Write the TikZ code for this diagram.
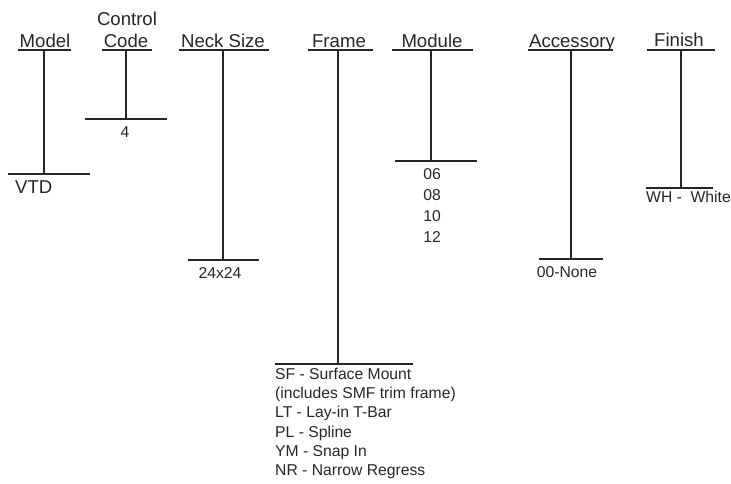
\documentclass[tikz,border=0pt]{standalone}
\usepackage{fontspec}
\setmainfont{Liberation Sans}
\begin{document}
\begin{tikzpicture}[x=1pt,y=-1pt,
  bar/.style={line width=1.4pt, color=black!85},
  head/.style={font=\fontsize{18.6}{20}\selectfont, anchor=base, inner sep=0pt, text=black!85},
  val/.style={font=\fontsize{15.7}{19}\selectfont, anchor=base, inner sep=0pt, text=black!85},
  valw/.style={val, anchor=base west}]
\useasboundingbox (0,0) rectangle (731,483);
% Model
\node[head] (hModel) at (45,47) {Model};
\coordinate (mTL) at (18,50); \coordinate (mTR) at (71,50);
\coordinate (mT) at (44,50); \coordinate (mB) at (44,174);
\coordinate (mBL) at (8,174); \coordinate (mBR) at (90,174);
\draw[bar] (mTL) -- (mTR);
\draw[bar] (mT) -- (mB);
\draw[bar] (mBL) -- (mBR);
\node[head, anchor=base west] (vModel) at (15,193) {VTD};
% Control Code
\node[head] (hCtrl1) at (127,25) {Control};
\node[head] (hCtrl2) at (126,47) {Code};
\coordinate (cTL) at (102,50); \coordinate (cTR) at (152,50);
\coordinate (cT) at (126,50); \coordinate (cB) at (126,119);
\coordinate (cBL) at (85,119); \coordinate (cBR) at (167,119);
\draw[bar] (cTL) -- (cTR);
\draw[bar] (cT) -- (cB);
\draw[bar] (cBL) -- (cBR);
\node[val] (vCtrl) at (125,137) {4};
% Neck Size
\node[head] (hNeck) at (223,47) {Neck Size};
\coordinate (nTL) at (179,50); \coordinate (nTR) at (269,50);
\coordinate (nT) at (223,50); \coordinate (nB) at (223,260);
\coordinate (nBL) at (188,260); \coordinate (nBR) at (259,260);
\draw[bar] (nTL) -- (nTR);
\draw[bar] (nT) -- (nB);
\draw[bar] (nBL) -- (nBR);
\node[val] (vNeck) at (220,278) {24x24};
% Frame
\node[head] (hFrame) at (339,47) {Frame};
\coordinate (fTL) at (308,50); \coordinate (fTR) at (373,50);
\coordinate (fT) at (338,50); \coordinate (fB) at (338,364);
\coordinate (fBL) at (275,364); \coordinate (fBR) at (413,364);
\draw[bar] (fTL) -- (fTR);
\draw[bar] (fT) -- (fB);
\draw[bar] (fBL) -- (fBR);
\node[valw] (vFrame1) at (275,379) {SF - Surface Mount};
\node[valw] (vFrame2) at (275,398) {(includes SMF trim frame)};
\node[valw] (vFrame3) at (275,417) {LT - Lay-in T-Bar};
\node[valw] (vFrame4) at (275,437) {PL - Spline};
\node[valw] (vFrame5) at (275,456) {YM - Snap In};
\node[valw] (vFrame6) at (275,475) {NR - Narrow Regress};
% Module
\node[head] (hMod) at (432,47) {Module};
\coordinate (oTL) at (392,50); \coordinate (oTR) at (473,50);
\coordinate (oT) at (431,50); \coordinate (oB) at (431,161);
\coordinate (oBL) at (395,161); \coordinate (oBR) at (477,161);
\draw[bar] (oTL) -- (oTR);
\draw[bar] (oT) -- (oB);
\draw[bar] (oBL) -- (oBR);
\node[val] (vMod1) at (432,179) {06};
\node[val] (vMod2) at (432,200) {08};
\node[val] (vMod3) at (432,221) {10};
\node[val] (vMod4) at (432,242) {12};
% Accessory
\node[head] (hAcc) at (572,47) {Accessory};
\coordinate (aTL) at (528,50); \coordinate (aTR) at (613,50);
\coordinate (aT) at (571,50); \coordinate (aB) at (571,259);
\coordinate (aBL) at (539,259); \coordinate (aBR) at (603,259);
\draw[bar] (aTL) -- (aTR);
\draw[bar] (aT) -- (aB);
\draw[bar] (aBL) -- (aBR);
\node[val] (vAcc) at (567,277) {00-None};
% Finish
\node[head] (hFin) at (679,46) {Finish};
\coordinate (iTL) at (647,50); \coordinate (iTR) at (715,50);
\coordinate (iT) at (681,50); \coordinate (iB) at (681,188);
\coordinate (iBL) at (646,188); \coordinate (iBR) at (713,188);
\draw[bar] (iTL) -- (iTR);
\draw[bar] (iT) -- (iB);
\draw[bar] (iBL) -- (iBR);
\node[valw] (vFin) at (646,202) {WH -\ \ White};
\end{tikzpicture}
\end{document}
